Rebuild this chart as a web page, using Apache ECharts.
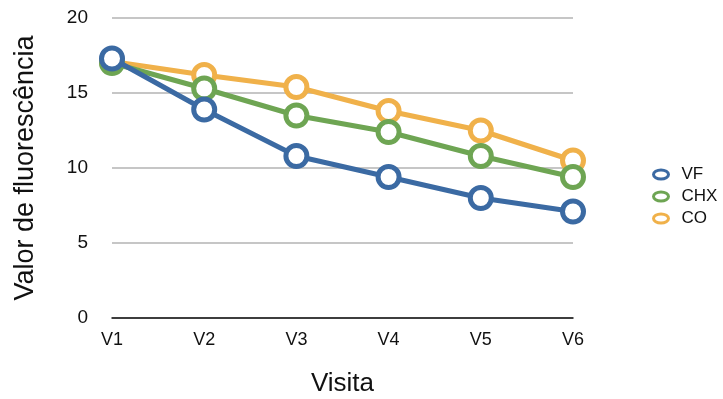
<!DOCTYPE html>
<html>
<head>
<meta charset="utf-8">
<script src="https://cdn.jsdelivr.net/npm/echarts@6/dist/echarts.min.js"></script>
<style>
  html, body { margin: 0; padding: 0; background: #fff; }
  #chart { width: 723px; height: 399px; }
</style>
</head>
<body>
<div id="chart"></div>
<script>
// Visits and mean fluorescence per group
const visits = ['V1', 'V2', 'V3', 'V4', 'V5', 'V6'];
const vf  = [17.3, 13.9, 10.8, 9.4, 8.0, 7.1];
const chx = [17.0, 15.3, 13.5, 12.4, 10.8, 9.4];
const co  = [17.1, 16.2, 15.4, 13.8, 12.5, 10.5];
const yTicks = [0, 5, 10, 15, 20];

const colors = { VF: '#3b6aa3', CHX: '#6ea553', CO: '#f0b14a' };
const font = 'Liberation Sans, Arial, Helvetica, sans-serif';

function makeSeries(name, data, z) {
  return {
    name: name,
    type: 'line',
    data: data,
    z: z,
    symbol: 'circle',
    symbolSize: 21,
    lineStyle: { width: 5, color: colors[name] },
    itemStyle: { color: '#ffffff', borderColor: colors[name], borderWidth: 5 },
    emphasis: { disabled: true }
  };
}

const chart = echarts.init(document.getElementById('chart'), null, { renderer: 'canvas' });
chart.setOption({
  animation: false,
  textStyle: { fontFamily: font },
  grid: { left: 112, right: 150, top: 18, bottom: 81, containLabel: false, outerBoundsMode: 'none' },
  legend: {
    orient: 'vertical',
    left: 647,
    top: 161,
    itemGap: 5,
    itemWidth: 15,
    itemHeight: 9,
    // flattened ring marker
    icon: 'path://M0,4.5 A7.5,4.5 0 1,0 15,4.5 A7.5,4.5 0 1,0 0,4.5 Z',
    data: ['VF', 'CHX', 'CO'],
    itemStyle: { color: '#ffffff', borderWidth: 3 },
    textStyle: { fontSize: 17, lineHeight: 14, color: '#111', fontFamily: font, padding: [0, 0, 0, 8] }
  },
  xAxis: {
    type: 'category',
    data: visits,
    boundaryGap: false,
    name: 'Visita',
    nameLocation: 'middle',
    nameGap: 53,
    nameTextStyle: { fontSize: 26, color: '#111', fontFamily: font },
    axisLine: { lineStyle: { color: '#111', width: 1.5 } },
    axisTick: { show: false },
    axisLabel: { fontSize: 18, color: '#111', margin: 13, fontFamily: font }
  },
  yAxis: {
    type: 'value',
    min: yTicks[0],
    max: yTicks[yTicks.length - 1],
    interval: 5,
    name: 'Valor de fluorescência',
    nameLocation: 'middle',
    nameGap: 73,
    nameTextStyle: { fontSize: 27, color: '#111', fontFamily: font },
    axisLine: { show: false },
    axisTick: { show: false },
    axisLabel: { fontSize: 19, color: '#111', margin: 24, fontFamily: font },
    splitLine: { lineStyle: { color: '#b3b3b3', width: 1.5 } }
  },
  series: [
    makeSeries('CO', co, 2),
    makeSeries('CHX', chx, 3),
    makeSeries('VF', vf, 4)
  ]
});
</script>
</body>
</html>
